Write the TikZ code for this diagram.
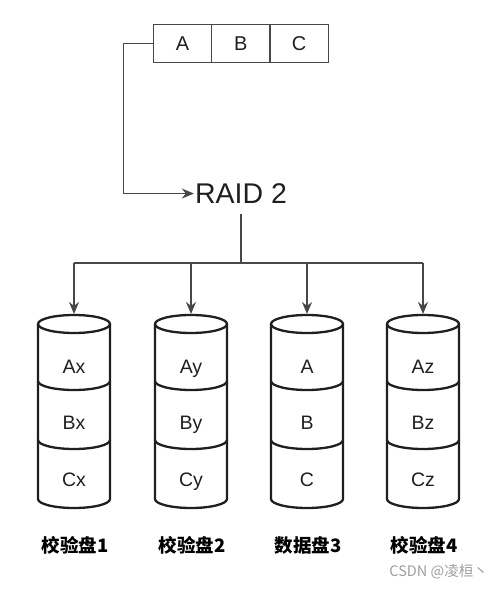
\documentclass[tikz,border=0pt]{standalone}
\usepackage{fontspec}
\setmainfont{Liberation Sans}
\newfontfamily\cjk{Noto Sans CJK SC}
\usetikzlibrary{arrows.meta,calc}
\begin{document}
\begin{tikzpicture}[x=1pt,y=-1pt,
  cell/.style={draw=black!72, line width=1.4pt, minimum width=58.3pt, minimum height=38pt, inner sep=0pt, font=\fontsize{20}{20}\selectfont, text=black!88},
  line/.style={draw=black!72, line width=1.6pt},
  conn/.style={line, -{Stealth[length=12pt,width=10pt]}},
  cyl/.style={draw=black!88, line width=2.3pt},
  celltext/.style={font=\fontsize{19.5}{19.5}\selectfont, text=black!88, inner sep=0pt, anchor=base},
  disklabel/.style={font=\cjk\bfseries\fontsize{18.5}{18.5}\selectfont, text=black, inner sep=0pt},
  wmark/.style={font=\cjk\fontsize{14.5}{14.5}\selectfont, text=black!38, inner sep=0pt}]
\useasboundingbox (0,0) rectangle (498,589);
% top cells
\node[cell] (A) at (182.5,43.5) {A};
\node[cell] (B) at (240.8,43.5) {B};
\node[cell] (C) at (299.1,43.5) {C};
% RAID label
\node[inner sep=1pt, anchor=base, font=\fontsize{28.5}{28.5}\selectfont, text=black!88] (raid) at (241,203.5) {RAID 2};
\draw[conn] (A.west) -- ++(-29,0) |- (raid.west);
% bus
\coordinate (hub) at (241,263);
\coordinate (b1) at (74,263);
\coordinate (b2) at (191,263);
\coordinate (b3) at (307,263);
\coordinate (b4) at (423,263);
\draw[line] ($(raid.south)+(0,9)$) -- (hub);
\draw[line] (b1) -- (b4);
% cylinders
\foreach \cx/\i/\ta/\tb/\tc/\lab in {74/1/Ax/Bx/Cx/校验盘1, 191/2/Ay/By/Cy/校验盘2, 307/3/A/B/C/数据盘3, 423/4/Az/Bz/Cz/校验盘4}{
  \begin{scope}[shift={(\cx,0)}]
    \draw[cyl] (0,324) ellipse [x radius=36pt, y radius=9pt];
    \draw[cyl] (-36,324) -- (-36,499) arc[start angle=180, end angle=360, x radius=36pt, y radius=9pt] -- (36,324);
    \draw[cyl] (-36,381) arc[start angle=180, end angle=360, x radius=36pt, y radius=9pt];
    \draw[cyl] (-36,440) arc[start angle=180, end angle=360, x radius=36pt, y radius=9pt];
    \coordinate (top\i) at (0,314);
    \node[celltext] (s\i a) at (0,373) {\ta};
    \node[celltext] (s\i b) at (0,429) {\tb};
    \node[celltext] (s\i c) at (0,486) {\tc};
    \node[disklabel] (lab\i) at (1,545.5) {\lab};
  \end{scope}
}
\draw[conn] (b1) -- (top1);
\draw[conn] (b2) -- (top2);
\draw[conn] (b3) -- (top3);
\draw[conn] (b4) -- (top4);
\node[wmark, anchor=east] (wm) at (488,572) {CSDN @凌桓丶};
\end{tikzpicture}
\end{document}
